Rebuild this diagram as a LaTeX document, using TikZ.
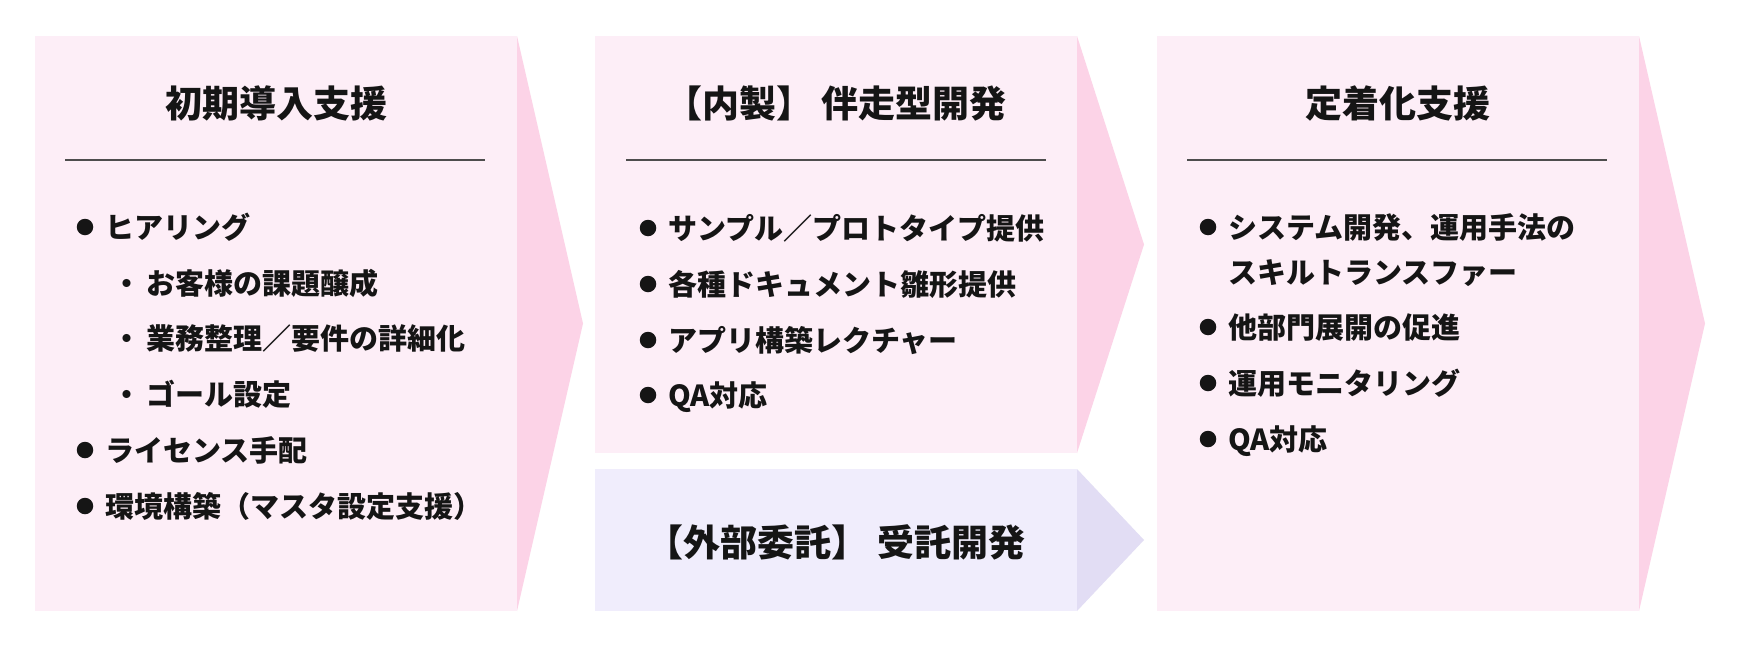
\documentclass[tikz,border=0pt]{standalone}
\usepackage{fontspec}
\setmainfont{Noto Sans CJK JP}
\definecolor{pinkbox}{HTML}{FDEEF7}
\definecolor{pinktri}{HTML}{FCD3E7}
\definecolor{lavbox}{HTML}{F0EDFC}
\definecolor{lavtri}{HTML}{E2DDF4}
\definecolor{rulec}{HTML}{4D4D4D}
\definecolor{ink}{HTML}{151515}
\begin{document}
\begin{tikzpicture}[x=1pt,y=-1pt,
  ttl/.style={font=\fontsize{37}{44}\selectfont\bfseries, text=ink, inner sep=0pt, anchor=base},
  itm/.style={font=\fontsize{29}{34}\selectfont\bfseries, text=ink, inner sep=0pt, anchor=base west},
  subdot/.style={font=\fontsize{29}{34}\selectfont\bfseries, text=ink, inner sep=0pt, anchor=base},
  dotb/.style={circle, fill=ink, minimum size=16.5pt, inner sep=0pt},
  seprule/.style={draw=rulec, line width=1.3pt}]
\useasboundingbox (0,0) rectangle (1740,648);
\fill[white] (0,0) rectangle (1740,648);
% shapes
\fill[pinkbox] (35,36) rectangle (517,611);
\fill[pinktri] (517,36) -- (583,323.5) -- (517,611) -- cycle;
\fill[pinkbox] (595,36) rectangle (1077,453);
\fill[pinktri] (1077,36) -- (1144,244.5) -- (1077,453) -- cycle;
\fill[lavbox] (595,469) rectangle (1077,611);
\fill[lavtri] (1077,469) -- (1144,540) -- (1077,611) -- cycle;
\fill[pinkbox] (1157,36) rectangle (1639,611);
\fill[pinktri] (1639,36) -- (1705,323.5) -- (1639,611) -- cycle;
% titles
\node[ttl] (t1) at (276,117) {初期導入支援};
\node[ttl] (t2) at (836,117) {【内製】 伴走型開発};
\node[ttl] (t3) at (836,556) {【外部委託】 受託開発};
\node[ttl] (t4) at (1398,117) {定着化支援};
% rules
\coordinate (r1a) at (65,160); \coordinate (r1b) at (485,160);
\coordinate (r2a) at (626,160); \coordinate (r2b) at (1046,160);
\coordinate (r4a) at (1187,160); \coordinate (r4b) at (1607,160);
\draw[seprule] (r1a) -- (r1b);
\draw[seprule] (r2a) -- (r2b);
\draw[seprule] (r4a) -- (r4b);
% box 1 items
\node[dotb] (b1a) at (85,227) {};
\node[itm] (i1a) at (105,238) {ヒアリング};
\node[subdot] (s1a) at (127,294) {・};
\node[itm] (i1b) at (146,294) {お客様の課題醸成};
\node[subdot] (s1b) at (127,349.5) {・};
\node[itm] (i1c) at (146,349.5) {業務整理／要件の詳細化};
\node[subdot] (s1c) at (127,405) {・};
\node[itm] (i1d) at (146,405) {ゴール設定};
\node[dotb] (b1e) at (85,450) {};
\node[itm] (i1e) at (105,461) {ライセンス手配};
\node[dotb] (b1f) at (85,506) {};
\node[itm] (i1f) at (105,517) {環境構築（マスタ設定支援）};
% box 2 items
\node[dotb] (b2a) at (648,228) {};
\node[itm] (i2a) at (668,239) {サンプル／プロトタイプ提供};
\node[dotb] (b2b) at (648,284) {};
\node[itm] (i2b) at (668,295) {各種ドキュメント雛形提供};
\node[dotb] (b2c) at (648,340) {};
\node[itm] (i2c) at (668,351) {アプリ構築レクチャー};
\node[dotb] (b2d) at (648,395) {};
\node[itm] (i2d) at (668,406) {QA対応};
% box 4 items
\node[dotb] (b4a) at (1208,227) {};
\node[itm] (i4a) at (1228,238) {システム開発、運用手法の};
\node[itm] (i4b) at (1228,283) {スキルトランスファー};
\node[dotb] (b4c) at (1208,327) {};
\node[itm] (i4c) at (1228,338) {他部門展開の促進};
\node[dotb] (b4d) at (1208,383) {};
\node[itm] (i4d) at (1228,394) {運用モニタリング};
\node[dotb] (b4e) at (1208,439) {};
\node[itm] (i4e) at (1228,450) {QA対応};
\end{tikzpicture}
\end{document}
